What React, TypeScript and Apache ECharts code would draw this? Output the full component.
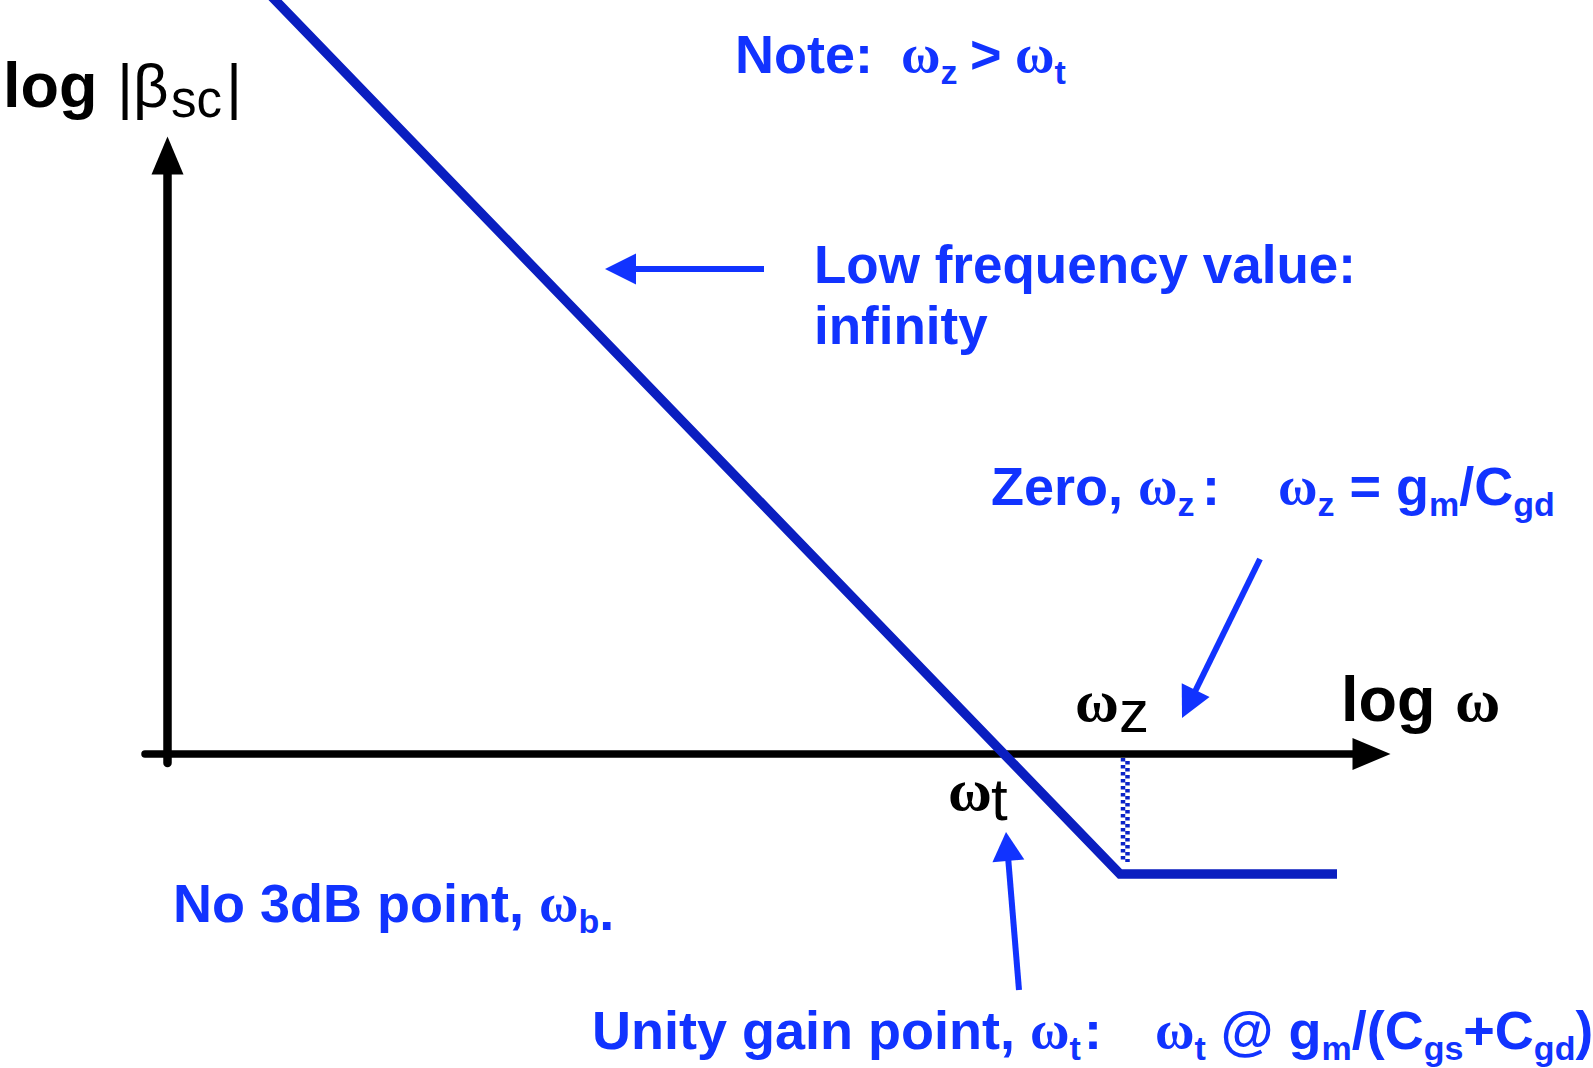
import React, { useEffect, useRef } from "react";
import * as echarts from "echarts";

const W = 1593;
const H = 1068;

// axis extents (log ω, log|β|) in arbitrary decade units
const xRange = [-0.225, 12.04];
const yRange = [-0.09, 5.985];

// asymptotic magnitude curve
const curveX = [0.979, 9.525, 11.695];
const curveY = [7.64, -1.2, -1.2];

// zero (ωz) marker
const zeroX = [9.555, 9.6];
const zeroY = [-0.04, -1.08];

const BLUE = "#1133ff";
const CURVE = "#0a1ec0";
const BLACK = "#000000";
const SANS = "'Liberation Sans', Arial, Helvetica, sans-serif";
const SERIF = "'Liberation Serif', 'Times New Roman', serif";
const CENTRAL = 0.33;

type Run = { t: string; s: number; w?: string; f?: string; dy?: number; x?: number };

const yLabel: Run[] = [
  { t: "log ", s: 63 },
  { t: "|β", s: 62, w: "normal", x: 117 },
  { t: "sc", s: 51, w: "normal", dy: 10, x: 171 },
  { t: "|", s: 62, w: "normal", x: 226 },
];
const xLabel: Run[] = [
  { t: "log ", s: 63 },
  { t: "ω", s: 62, w: "bold", f: "serif", x: 1455 },
];
const noteRuns: Run[] = [
  { t: "Note:", s: 54 },
  { t: "ω", s: 54, f: "serif", x: 901 },
  { t: "z", s: 34, dy: 11 },
  { t: ">", s: 54, x: 970 },
  { t: "ω", s: 54, f: "serif", x: 1015 },
  { t: "t", s: 34, dy: 11 },
];
const lowRuns1: Run[] = [{ t: "Low frequency value:", s: 53 }];
const lowRuns2: Run[] = [{ t: "infinity", s: 53 }];
const zeroRuns: Run[] = [
  { t: "Zero, ", s: 54 },
  { t: "ω", s: 54, f: "serif" },
  { t: "z", s: 34, dy: 11 },
  { t: ":", s: 54, x: 1202 },
  { t: "ω", s: 54, f: "serif", x: 1278 },
  { t: "z", s: 34, dy: 11 },
  { t: " = g", s: 54 },
  { t: "m", s: 34, dy: 11 },
  { t: "/C", s: 54 },
  { t: "gd", s: 34, dy: 11 },
];
const no3dbRuns: Run[] = [
  { t: "No 3dB point, ", s: 54 },
  { t: "ω", s: 54, f: "serif" },
  { t: "b", s: 34, dy: 11 },
  { t: ".", s: 54, dy: 8 },
];
const unityRuns: Run[] = [
  { t: "Unity gain point, ", s: 54 },
  { t: "ω", s: 54, f: "serif" },
  { t: "t", s: 34, dy: 11 },
  { t: ":", s: 54, x: 1084 },
  { t: "ω", s: 54, f: "serif", x: 1155 },
  { t: "t", s: 34, dy: 11 },
  { t: " @ g", s: 54 },
  { t: "m", s: 34, dy: 11 },
  { t: "/(C", s: 54 },
  { t: "gs", s: 34, dy: 11 },
  { t: "+C", s: 54 },
  { t: "gd", s: 34, dy: 11 },
  { t: ")", s: 53 },
];
const wzRuns: Run[] = [
  { t: "ω", s: 60, w: "bold", f: "serif" },
  { t: "z", s: 60, w: "normal", x: 1119, dy: 10 },
];
const wtRuns: Run[] = [
  { t: "ω", s: 60, w: "bold", f: "serif" },
  { t: "t", s: 60, w: "normal", x: 991, dy: 9 },
];

let ctx: CanvasRenderingContext2D | null = null;
function measure(text: string, font: string) {
  if (!ctx) ctx = document.createElement("canvas").getContext("2d");
  if (!ctx) return text.length * 20;
  ctx.font = font;
  return ctx.measureText(text).width;
}

function layoutRuns(runs: Run[], x0: number, base: number, color: string) {
  let x = x0;
  const out: any[] = [];
  for (const r of runs) {
    if (r.x != null) x = r.x;
    const fam = r.f === "serif" ? SERIF : SANS;
    const wt = r.w || "bold";
    const font = `${wt} ${r.s}px ${fam}`;
    const lead = (r.t.match(/^\s*/) || [""])[0];
    if (lead) x += measure(lead, font);
    const txt = r.t.slice(lead.length);
    const w = measure(txt, font);
    const b = base + (r.dy || 0);
    out.push({
      type: "text",
      x,
      y: b - CENTRAL * r.s,
      z: 100,
      silent: true,
      style: {
        text: txt.replace(/\s+$/, ""),
        fill: color,
        fontSize: r.s,
        fontFamily: fam,
        fontWeight: wt,
        align: "left",
        verticalAlign: "middle",
        textAlign: "left",
        textVerticalAlign: "middle",
      },
    });
    x += w;
  }
  return out;
}

function arrow(x1: number, y1: number, x2: number, y2: number, head: number, hw: number, width: number, color: string) {
  const dx = x2 - x1;
  const dy = y2 - y1;
  const L = Math.hypot(dx, dy);
  const ux = dx / L;
  const uy = dy / L;
  const bx = x2 - ux * head;
  const by = y2 - uy * head;
  const px = -uy;
  const py = ux;
  return [
    {
      type: "line",
      z: 90,
      silent: true,
      shape: { x1, y1, x2: bx + ux * 2, y2: by + uy * 2 },
      style: { stroke: color, lineWidth: width },
    },
    {
      type: "polygon",
      z: 91,
      silent: true,
      shape: { points: [[x2, y2], [bx + px * hw, by + py * hw], [bx - px * hw, by - py * hw]] },
      style: { fill: color },
    },
  ];
}

export default function App() {
  const ref = useRef<HTMLDivElement>(null);
  useEffect(() => {
    document.body.style.margin = "0";
    if (!ref.current) return;
    const chart = echarts.init(ref.current, null, { renderer: "svg", width: W, height: H });
    const curveData = curveX.map((x, i) => [x, curveY[i]]);
    const graphics = [
      ...arrow(764, 269, 605, 269, 31, 15.5, 6, BLUE),
      ...arrow(1260, 559, 1182, 718, 31, 15.5, 6, BLUE),
      ...arrow(1019, 990, 1006, 832, 29, 16, 6, BLUE),
      ...layoutRuns(yLabel, 3, 106, BLACK),
      ...layoutRuns(xLabel, 1341, 720, BLACK),
      ...layoutRuns(noteRuns, 735, 72, BLUE),
      ...layoutRuns(lowRuns1, 814, 282, BLUE),
      ...layoutRuns(lowRuns2, 814, 343, BLUE),
      ...layoutRuns(zeroRuns, 991, 504, BLUE),
      ...layoutRuns(no3dbRuns, 173, 921, BLUE),
      ...layoutRuns(unityRuns, 592, 1048, BLUE),
      ...layoutRuns(wzRuns, 1075, 721, BLACK),
      ...layoutRuns(wtRuns, 948, 810, BLACK),
    ];
    chart.setOption({
      animation: false,
      backgroundColor: "#ffffff",
      grid: { left: 145, right: W - 1371.5, top: 155.5, bottom: H - 763, containLabel: false },
      xAxis: {
        type: "value",
        min: xRange[0],
        max: xRange[1],
        axisLine: {
          show: true,
          onZero: true,
          symbol: ["none", "triangle"],
          symbolSize: [32, 38],
          lineStyle: { color: BLACK, width: 7.5 },
        },
        axisTick: { show: false },
        axisLabel: { show: false },
        splitLine: { show: false },
      },
      yAxis: {
        type: "value",
        min: yRange[0],
        max: yRange[1],
        axisLine: {
          show: true,
          onZero: true,
          symbol: ["none", "triangle"],
          symbolSize: [32, 38],
          lineStyle: { color: BLACK, width: 8.5 },
        },
        axisTick: { show: false },
        axisLabel: { show: false },
        splitLine: { show: false },
      },
      series: [
        {
          type: "line",
          data: curveData,
          showSymbol: false,
          clip: false,
          silent: true,
          z: 5,
          lineStyle: { color: CURVE, width: 9.5, join: "miter", cap: "butt" },
        },
        {
          type: "line",
          data: [[zeroX[0], zeroY[0]], [zeroX[0], zeroY[1]]],
          showSymbol: false,
          clip: false,
          silent: true,
          z: 4,
          lineStyle: { color: "#0a22c8", width: 4.5, type: [3.5, 3.5], dashOffset: 0, cap: "butt" },
        },
        {
          type: "line",
          data: [[zeroX[1], zeroY[0]], [zeroX[1], zeroY[1]]],
          showSymbol: false,
          clip: false,
          silent: true,
          z: 4,
          lineStyle: { color: "#0a22c8", width: 4.5, type: [3.5, 3.5], dashOffset: 3.5, cap: "butt" },
        },
      ],
      graphic: { elements: graphics },
    });
    return () => chart.dispose();
  }, []);
  return <div ref={ref} style={{ position: "absolute", left: 0, top: 0, width: W, height: H }} />;
}
